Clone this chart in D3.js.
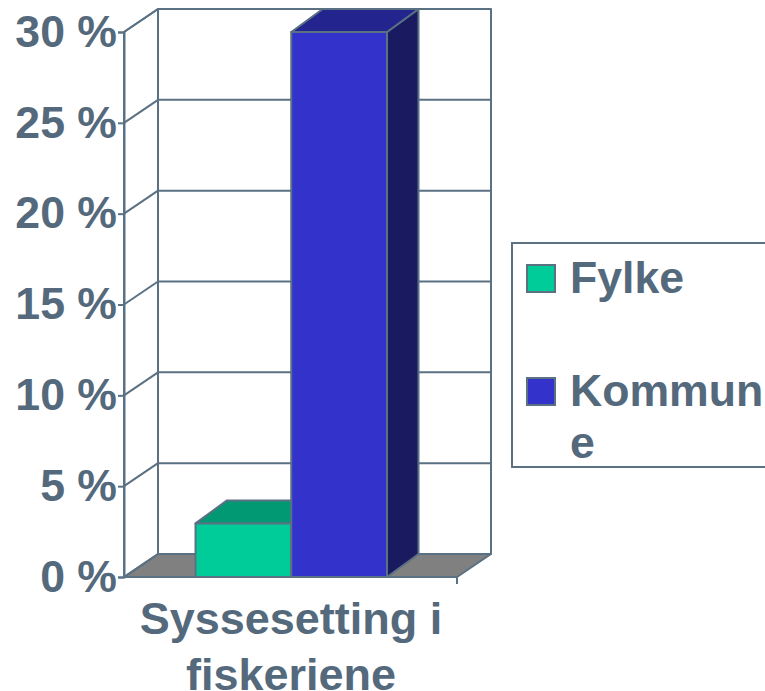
<!DOCTYPE html>
<html>
<head>
<meta charset="utf-8">
<script src="https://cdn.jsdelivr.net/npm/d3@7"></script>
<style>
  body { margin: 0; background: #fff; overflow: hidden; }
  text { font-family: "Liberation Sans", Arial, sans-serif; font-weight: bold; fill: #54697c; }
</style>
</head>
<body>
<script>
var categories = ['Syssesetting i fiskeriene']
var categoryLines = ['Syssesetting i', 'fiskeriene']
var seriesNames = ['Fylke', 'Kommune']
var seriesValues = [2.95, 30]
var seriesColors = ['#00cc99', '#3333cc']
var topColors = ['#009973', '#24248f']
var sideColors = ['#007a5c', '#1a1a60']
var yTicks = [0, 5, 10, 15, 20, 25, 30]

var line = '#5a7083'
var dx = 34, dy = -23  // depth of the 3d box
var barDx = 31.5
var plotLeft = 124, plotRight = 457, plotBase = 577, plotTop = 32

var svg = d3.select('body').append('svg')
  .attr('width', 765)
  .attr('height', 691)

var y = d3.scaleLinear().domain([0, 30]).range([plotBase, plotTop])
var x0 = d3.scaleBand().domain(categories).range([plotLeft, plotRight])
var x1 = d3.scaleBand().domain(seriesNames).range([x0(categories[0]) + 71.5, x0(categories[0]) + 263])

function poly(pts, fill) {
  return svg.append('polygon')
    .attr('points', pts.map(p => p.join(',')).join(' '))
    .attr('fill', fill)
    .attr('stroke', line)
    .attr('stroke-width', 2)
    .attr('stroke-linejoin', 'round')
}

// walls and floor
poly([[plotLeft, plotBase], [plotLeft + dx, plotBase + dy], [plotRight + dx, plotBase + dy], [plotRight, plotBase]], '#808080')
poly([[plotLeft, plotBase], [plotLeft, plotTop], [plotLeft + dx, plotTop + dy], [plotLeft + dx, plotBase + dy]], '#fff')
poly([[plotLeft + dx, plotBase + dy], [plotLeft + dx, plotTop + dy], [plotRight + dx, plotTop + dy], [plotRight + dx, plotBase + dy]], '#fff')

// grid lines, side wall then back wall
var grid = svg.append('g')
grid.selectAll('.side').data(yTicks).enter().append('line')
  .attr('x1', plotLeft).attr('y1', d => y(d))
  .attr('x2', plotLeft + dx).attr('y2', d => y(d) + dy)
  .attr('stroke', line).attr('stroke-width', 2)
grid.selectAll('.back').data(yTicks).enter().append('line')
  .attr('x1', plotLeft + dx).attr('y1', d => y(d) + dy)
  .attr('x2', plotRight + dx).attr('y2', d => y(d) + dy)
  .attr('stroke', line).attr('stroke-width', 2)

// front edge of the floor
svg.append('line')
  .attr('x1', plotLeft).attr('y1', plotBase).attr('x2', plotRight).attr('y2', plotBase)
  .attr('stroke', line).attr('stroke-width', 2)
svg.append('line')
  .attr('x1', plotRight).attr('y1', plotBase).attr('x2', plotRight).attr('y2', plotBase + 7)
  .attr('stroke', line).attr('stroke-width', 2)

// bars, drawn back to front
var w = x1.bandwidth()
seriesNames.forEach(function(name, i) {
  var bx = x1(name), by = y(seriesValues[i])
  poly([[bx + w, by], [bx + w + barDx, by + dy], [bx + w + barDx, plotBase + dy], [bx + w, plotBase]], sideColors[i])
  poly([[bx, by], [bx + barDx, by + dy], [bx + w + barDx, by + dy], [bx + w, by]], topColors[i])
})
seriesNames.forEach(function(name, i) {
  var bx = x1(name), by = y(seriesValues[i])
  poly([[bx, by], [bx + w, by], [bx + w, plotBase], [bx, plotBase]], seriesColors[i])
})

// y axis
var axis = svg.append('g')
  .attr('transform', 'translate(' + plotLeft + ',0)')
  .call(d3.axisLeft(y).tickValues(yTicks).tickSize(6).tickPadding(1).tickFormat(d => d + ' %'))
axis.select('.domain').attr('stroke', line).attr('stroke-width', 2)
axis.selectAll('line').attr('stroke', line).attr('stroke-width', 2)
axis.selectAll('text')
  .style('font-size', '44.6px')
  .style('font-family', '"Liberation Sans", Arial, sans-serif')
  .style('font-weight', 'bold')
  .style('fill', '#54697c')

// category label
svg.selectAll('.cat').data(categoryLines).enter().append('text')
  .attr('class', 'cat')
  .attr('x', 291)
  .attr('y', (d, i) => 634 + i * 56)
  .attr('text-anchor', 'middle')
  .style('font-size', '45px')
  .text(d => d)

// legend
svg.append('rect')
  .attr('x', 512).attr('y', 243).attr('width', 260).attr('height', 224)
  .attr('fill', '#fff').attr('stroke', line).attr('stroke-width', 2)

var legendY = [278, 391]
var legendLabels = [['Fylke'], ['Kommun', 'e']]
var legend = svg.selectAll('.leg').data(seriesNames).enter().append('g')
  .attr('transform', (d, i) => 'translate(0,' + legendY[i] + ')')
legend.append('rect')
  .attr('x', 527).attr('y', -13).attr('width', 28).attr('height', 27)
  .attr('fill', (d, i) => seriesColors[i])
  .attr('stroke', line).attr('stroke-width', 2)
legend.each(function(d, i) {
  d3.select(this).selectAll('text').data(legendLabels[i]).enter().append('text')
    .attr('x', 570)
    .attr('y', (t, j) => 15 + j * 52)
    .style('font-size', '44.6px')
    .text(t => t)
})
</script>
</body>
</html>
